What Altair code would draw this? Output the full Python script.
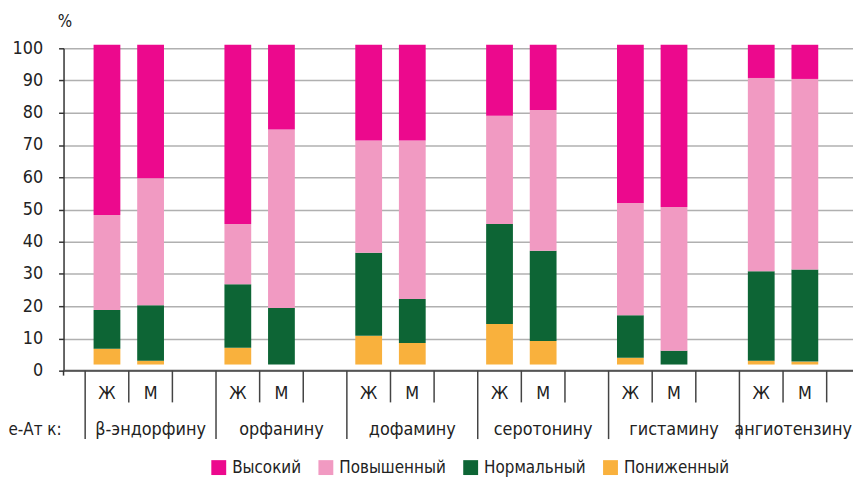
import altair as alt
import pandas as pd

groups = ["β-эндорфину", "орфанину", "дофамину", "серотонину", "гистамину", "ангиотензину"]
sexes = ["Ж", "М"]
prefix = "е-Ат к:"
levels = ["Высокий", "Повышенный", "Нормальный", "Пониженный"]
colors = ["#EC098D", "#F19AC2", "#0D6535", "#F9B13D"]

# segment heights (axis units) for the 12 bars (Ж, М per group), bottom to top
low = [4.9, 1.2, 5.2, 0.0, 8.9, 6.7, 12.6, 7.3, 2.1, 0.0, 1.2, 0.9]
normal = [12.0, 17.2, 19.7, 17.5, 25.8, 13.6, 31.0, 28.0, 13.2, 4.3, 27.7, 28.6]
raised = [29.5, 39.4, 18.7, 55.4, 34.8, 49.2, 33.6, 43.7, 34.8, 44.6, 60.0, 59.1]
high = [52.8, 41.4, 55.6, 26.3, 29.7, 29.7, 22.0, 20.2, 49.1, 50.3, 10.3, 10.6]
base = 1.9
y_ticks = list(range(0, 101, 10))

FONT = "DejaVu Sans Condensed, Liberation Sans, sans-serif"
FS = 18
FSL = 17
W, H = 796, 325
XDOM = [-0.382, 17.49]

rows = []
for i in range(12):
    g, s = divmod(i, 2)
    cum = base
    for lvl, arr in [("Пониженный", low), ("Нормальный", normal), ("Повышенный", raised), ("Высокий", high)]:
        rows.append({"slot": g * 3 + s + 0.5, "level": lvl, "y0": cum, "y1": cum + arr[i]})
        cum += arr[i]
df = pd.DataFrame(rows)

xs = alt.Scale(domain=XDOM, nice=False, zero=False)
ys = alt.Scale(domain=[0, 100], nice=False)

bars = alt.Chart(df).mark_bar(size=27).encode(
    x=alt.X("slot:Q", scale=xs, axis=None),
    y=alt.Y("y0:Q", scale=ys,
            axis=alt.Axis(values=y_ticks, grid=True, gridColor="#b0b0b0", gridWidth=1.5,
                          domainColor="#333333", domainWidth=1.5, tickColor="#333333", tickSize=5,
                          tickWidth=1.5, labelFontSize=FS, labelColor="#222222", labelPadding=16,
                          labelOverlap=False,
                          title="%", titleAngle=0, titleX=1, titleY=-18, titleAlign="center",
                          titleBaseline="bottom", titleFontSize=FSL, titleFontWeight="normal",
                          titleColor="#222222")),
    y2="y1:Q",
    color=alt.Color("level:N", scale=alt.Scale(domain=levels, range=colors),
                    legend=alt.Legend(orient="none", legendX=148, legendY=414, direction="horizontal",
                                      title=None, symbolType="square", symbolSize=225,
                                      symbolStrokeWidth=0, labelFontSize=FSL, labelOffset=5,
                                      columnPadding=16, padding=0, labelColor="#222222")),
)

zero = alt.Chart(pd.DataFrame({"a": [0]})).mark_rule(color="#555555", strokeWidth=2).encode(
    x=alt.value(0), x2=alt.value(W), y=alt.value(H)
)

sep = pd.DataFrame({"pos": list(range(18))})
sep["long"] = sep["pos"] % 3 == 0
short_rules = alt.Chart(sep[~sep["long"]]).mark_rule(color="#444444", strokeWidth=1.5).encode(
    x=alt.X("pos:Q", scale=xs, axis=None), y=alt.value(H), y2=alt.value(H + 32)
)
long_rules = alt.Chart(sep[sep["long"]]).mark_rule(color="#444444", strokeWidth=1.5).encode(
    x=alt.X("pos:Q", scale=xs, axis=None), y=alt.value(H), y2=alt.value(H + 69)
)

sex_df = pd.DataFrame([{"slot": g * 3 + s + 0.5, "sex": sexes[s]} for g in range(len(groups)) for s in range(2)])
sex_text = alt.Chart(sex_df).mark_text(fontSize=FS, font=FONT, color="#222222", baseline="middle").encode(
    x=alt.X("slot:Q", scale=xs, axis=None), y=alt.value(H + 24), text="sex:N"
)

grp_df = pd.DataFrame({"center": [g * 3 + 1.5 for g in range(len(groups))], "name": groups})
grp_text = alt.Chart(grp_df.iloc[:-1]).mark_text(fontSize=FS, font=FONT, color="#222222", baseline="middle").encode(
    x=alt.X("center:Q", scale=xs, axis=None), y=alt.value(H + 60), text="name:N"
)
grp_last = alt.Chart(grp_df.iloc[-1:]).mark_text(
    fontSize=FS, font=FONT, color="#222222", baseline="middle", align="right"
).encode(x=alt.value(W - 1), y=alt.value(H + 60), text="name:N")

pre_text = alt.Chart(pd.DataFrame({"t": [prefix]})).mark_text(
    fontSize=FSL, font=FONT, color="#222222", baseline="middle", align="right"
).encode(x=alt.value(-2), y=alt.value(H + 60), text="t:N")

axis_ext = alt.Chart(pd.DataFrame({"a": [0]})).mark_rule(color="#333333", strokeWidth=1.5).encode(
    x=alt.value(0), y=alt.value(H), y2=alt.value(H + 5)
)

chart = alt.layer(bars, zero, short_rules, long_rules, sex_text, grp_text, grp_last, pre_text, axis_ext).properties(
    width=W, height=H,
    autosize=alt.AutoSizeParams(type="none"),
    padding={"left": 56, "top": 38.7, "right": 0, "bottom": 107.3},
).configure(font=FONT).configure_view(stroke=None)

chart.save("out.html", embed_options={"renderer": "svg", "actions": False})
